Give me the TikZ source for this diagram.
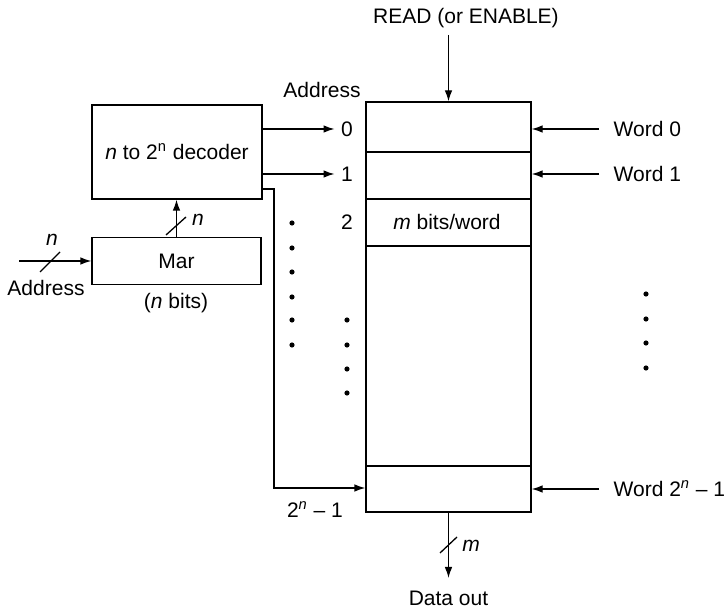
\documentclass[tikz,border=0pt]{standalone}
\usepackage{fontspec}
\setmainfont{Liberation Sans}
\usetikzlibrary{arrows.meta}
\begin{document}
\begin{tikzpicture}[x=0.5pt,y=-0.5pt, line width=0.65pt,
  every node/.style={font=\fontsize{10.5}{12}\selectfont, inner sep=0pt},
  arr/.style={-{Latex[length=5.5pt,width=3.8pt]}},
  dotn/.style={circle, fill, inner sep=0pt, minimum size=2.6pt},
  boxn/.style={draw, line width=0.65pt}]
\useasboundingbox (0,0) rectangle (725,610);

% main blocks
\node[boxn, minimum width=82.5pt, minimum height=205pt] (mem) at (448.5,307) {};
\node[boxn, minimum width=85pt, minimum height=47pt] (dec) at (177,152) {\textit{n} to 2\textsuperscript{n} decoder};
\node[boxn, minimum width=84.5pt, minimum height=23.5pt] (mar) at (176.5,261) {Mar};

% memory rows
\draw (mem.west |- 0,152) -- (mem.east |- 0,152);
\draw (mem.west |- 0,199) -- (mem.east |- 0,199);
\draw (mem.west |- 0,246) -- (mem.east |- 0,246);
\draw (mem.west |- 0,466) -- (mem.east |- 0,466);
\node (mbits) at (447,222) {\textit{m} bits/word};

% READ
\node (read) at (466,18) {READ (or ENABLE)};
\coordinate (readst) at (448.5,35);
\draw[arr] (readst) -- (mem.north);

% address labels
\node (addr) at (322,90) {Address};
\node (a0) at (347,129) {0};
\node (a1) at (347,174) {1};
\node (a2) at (347,222) {2};
\draw[arr, shorten >=3pt] (dec.east |- a0) -- (a0.west);
\draw[arr, shorten >=3pt] (dec.east |- a1) -- (a1.west);

% last decoder output
\coordinate (bend1) at (274,189);
\coordinate (bend2) at (274,488);
\draw[arr] (dec.east |- bend1) -- (bend1) -- (bend2) -- (mem.west |- bend2);
\node (alast) at (315,510) {2\textsuperscript{\textit{n}} \textendash{} 1};

% words
\node[anchor=west] (w0) at (613,129) {Word 0};
\node[anchor=west] (w1) at (613,174) {Word 1};
\node[anchor=west] (wn) at (613,489) {Word 2\textsuperscript{\textit{n}} \textendash{} 1};
\draw[arr] ([xshift=-7pt]w0.west) -- (mem.east |- w0.west);
\draw[arr] ([xshift=-7pt]w1.west) -- (mem.east |- w1.west);
\draw[arr] ([xshift=-7pt]wn.west) -- (mem.east |- wn.west);

% data out
\node (dout) at (448.5,598) {Data out};
\coordinate (dtip) at (448.5,578);
\draw[arr] (mem.south) -- (dtip);
\draw (440,553) -- (457,537);
\node (mlab) at (471,546) {\textit{m}};

% Mar to decoder
\draw[arr] (mar.north) -- (dec.south -| mar.north);
\draw (166,235) -- (186,217);
\node (nlab1) at (198,220) {\textit{n}};

% address input
\coordinate (ain) at (19,261);
\draw[arr] (ain) -- (mar.west);
\draw (40,272) -- (60,252);
\node (nlab2) at (52,240) {\textit{n}};
\node (ainlab) at (46,288) {Address};
\node (nbits) at (176,303) {(\textit{n} bits)};

% dots
\foreach \y in {223,248,272,297,320,345} \node[dotn] at (292,\y) {};
\foreach \y in {320,345,369,393} \node[dotn] at (347,\y) {};
\foreach \y in {294,319,343,368} \node[dotn] at (646,\y) {};
\end{tikzpicture}
\end{document}
